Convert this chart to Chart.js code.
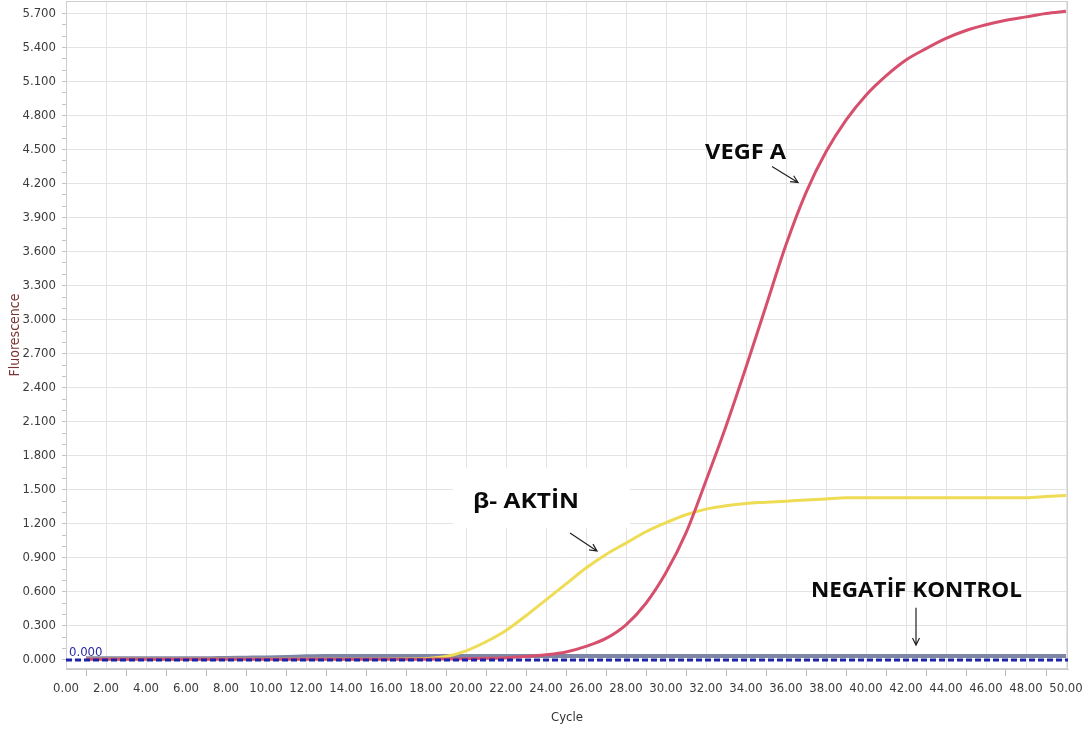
<!DOCTYPE html>
<html>
<head>
<meta charset="utf-8">
<title>Fluorescence / Cycle</title>
<script src="https://cdn.jsdelivr.net/npm/chart.js@4.4.1/dist/chart.umd.min.js"></script>
<style>
    html, body { margin: 0; padding: 0; background: #fff; }
    #wrap { width: 1089px; height: 731px; position: relative; }
</style>
</head>
<body>
<div id="wrap"><canvas id="pcrChart"></canvas></div>
<script>
// Amplification curves, values (one per cycle)
const cycles = [1, 2, 3, 4, 5, 6, 7, 8, 9, 10, 11, 12, 13, 14, 15, 16, 17, 18, 19, 20,
    21, 22, 23, 24, 25, 26, 27, 28, 29, 30, 31, 32, 33, 34, 35, 36, 37, 38, 39, 40,
    41, 42, 43, 44, 45, 46, 47, 48, 49, 50];

const vegfA = [0.005, 0.005, 0.005, 0.005, 0.005, 0.005, 0.005, 0.005, 0.005, 0.005,
    0.005, 0.005, 0.005, 0.005, 0.005, 0.005, 0.005, 0.006, 0.008, 0.01,
    0.014, 0.02, 0.03, 0.045, 0.07, 0.12, 0.19, 0.31, 0.50, 0.77,
    1.12, 1.58, 2.06, 2.58, 3.12, 3.66, 4.12, 4.48, 4.76, 4.98,
    5.15, 5.29, 5.39, 5.48, 5.55, 5.60, 5.64, 5.67, 5.70, 5.72];

const betaAktin = [0.005, 0.005, 0.005, 0.005, 0.005, 0.005, 0.005, 0.005, 0.005, 0.005,
    0.005, 0.005, 0.005, 0.005, 0.005, 0.006, 0.008, 0.012, 0.03, 0.08,
    0.16, 0.26, 0.39, 0.53, 0.67, 0.81, 0.93, 1.03, 1.13, 1.21,
    1.28, 1.33, 1.36, 1.38, 1.39, 1.40, 1.41, 1.42, 1.43, 1.43,
    1.43, 1.43, 1.43, 1.43, 1.43, 1.43, 1.43, 1.43, 1.44, 1.45];

const negatifKontrol = [0.015, 0.015, 0.015, 0.015, 0.015, 0.015, 0.015, 0.018, 0.02, 0.022,
    0.026, 0.032, 0.035, 0.035, 0.035, 0.035, 0.035, 0.035, 0.035, 0.035,
    0.035, 0.035, 0.035, 0.035, 0.035, 0.035, 0.035, 0.035, 0.035, 0.035,
    0.035, 0.035, 0.035, 0.035, 0.035, 0.035, 0.035, 0.035, 0.035, 0.035,
    0.035, 0.035, 0.035, 0.035, 0.035, 0.035, 0.035, 0.035, 0.035, 0.035];

const thresholdValue = 0.0;
const thresholdLabel = '0.000';

// Tick labels
const xTickLabels = ['0.00', '2.00', '4.00', '6.00', '8.00', '10.00', '12.00', '14.00', '16.00',
    '18.00', '20.00', '22.00', '24.00', '26.00', '28.00', '30.00', '32.00', '34.00', '36.00',
    '38.00', '40.00', '42.00', '44.00', '46.00', '48.00', '50.00'];
const yTickLabels = ['0.000', '0.300', '0.600', '0.900', '1.200', '1.500', '1.800', '2.100',
    '2.400', '2.700', '3.000', '3.300', '3.600', '3.900', '4.200', '4.500', '4.800', '5.100',
    '5.400', '5.700'];

const X_MIN = 0, X_MAX = 50.1;
const Y_MIN = -0.08, Y_MAX = 5.81;

const tickFont = { family: '"Liberation Sans Narrow", "DejaVu Sans Condensed", sans-serif', size: 13 };

// Callouts in data units (x = cycle, y = fluorescence)
const callouts = [
    { text: 'VEGF A', x: 33.98, y: 4.42, width: 81, arrow: [35.3, 4.35, 36.6, 4.21] },
    { text: 'β- AKTİN', x: 23.0, y: 1.343, width: 106, box: [19.35, 1.69, 28.2, 1.165], arrow: [25.2, 1.12, 26.55, 0.96] },
    { text: 'NEGATİF KONTROL', x: 42.52, y: 0.556, width: 211, arrow: [42.5, 0.46, 42.5, 0.13] }
];

function toPoints(values) {
    return cycles.map((c, i) => ({ x: c, y: values[i] }));
}

function drawArrow(ctx, x1, y1, x2, y2) {
    const ang = Math.atan2(y2 - y1, x2 - x1);
    const len = 8;
    ctx.beginPath();
    ctx.moveTo(x1, y1);
    ctx.lineTo(x2, y2);
    ctx.moveTo(x2 - len * Math.cos(ang - 0.45), y2 - len * Math.sin(ang - 0.45));
    ctx.lineTo(x2, y2);
    ctx.lineTo(x2 - len * Math.cos(ang + 0.45), y2 - len * Math.sin(ang + 0.45));
    ctx.stroke();
}

const plotExtras = {
    id: 'plotExtras',
    beforeDatasetsDraw(chart) {
        const { ctx, chartArea: a, scales: { x, y } } = chart;
        ctx.save();
        // white box behind the beta-actin label
        callouts.forEach(c => {
            if (!c.box) return;
            const l = x.getPixelForValue(c.box[0]), t = y.getPixelForValue(c.box[1]);
            const r = x.getPixelForValue(c.box[2]), b = y.getPixelForValue(c.box[3]);
            ctx.fillStyle = '#fff';
            ctx.fillRect(l, t, r - l, b - t);
        });
        // plot frame
        ctx.strokeStyle = '#cfcfcf';
        ctx.lineWidth = 1;
        ctx.strokeRect(a.left + 0.5, a.top + 0.5, a.right - a.left - 1, a.bottom - a.top - 1);
        ctx.restore();
    },
    afterDatasetsDraw(chart) {
        const { ctx, scales: { x, y } } = chart;
        ctx.save();
        // threshold value label
        ctx.font = '13px ' + tickFont.family;
        ctx.fillStyle = '#2a2aa8';
        ctx.textAlign = 'left';
        ctx.textBaseline = 'alphabetic';
        ctx.fillText(thresholdLabel, x.getPixelForValue(0.15), y.getPixelForValue(0.035));

        callouts.forEach(c => {
            ctx.save();
            ctx.font = 'bold 21px "Open Sans", sans-serif';
            const w = ctx.measureText(c.text).width;
            ctx.translate(x.getPixelForValue(c.x), y.getPixelForValue(c.y));
            ctx.scale(c.width / w, 1);
            ctx.textAlign = 'center';
            ctx.textBaseline = 'alphabetic';
            ctx.fillStyle = '#0a0a0a';
            ctx.fillText(c.text, 0, 0);
            ctx.restore();

            ctx.strokeStyle = '#222';
            ctx.lineWidth = 1.2;
            drawArrow(ctx,
                x.getPixelForValue(c.arrow[0]), y.getPixelForValue(c.arrow[1]),
                x.getPixelForValue(c.arrow[2]), y.getPixelForValue(c.arrow[3]));
        });
        ctx.restore();
    }
};

document.addEventListener('DOMContentLoaded', () => {
    const ctx = document.getElementById('pcrChart');

    new Chart(ctx, {
        type: 'line',
        data: {
            datasets: [
                {
                    label: 'Threshold',
                    data: [{ x: X_MIN, y: thresholdValue }, { x: X_MAX, y: thresholdValue }],
                    borderColor: '#1c23a8',
                    borderWidth: 3,
                    borderDash: [6, 3],
                    pointRadius: 0,
                    order: 0
                },
                {
                    label: 'VEGF A',
                    data: toPoints(vegfA),
                    borderColor: '#d6506e',
                    borderWidth: 3,
                    pointRadius: 0,
                    cubicInterpolationMode: 'monotone',
                    order: 1
                },
                {
                    label: 'β- AKTİN',
                    data: toPoints(betaAktin),
                    borderColor: '#efdc55',
                    borderWidth: 3,
                    pointRadius: 0,
                    cubicInterpolationMode: 'monotone',
                    order: 2
                },
                {
                    label: 'NEGATİF KONTROL',
                    data: toPoints(negatifKontrol),
                    borderColor: '#7d87a5',
                    borderWidth: 4,
                    pointRadius: 0,
                    cubicInterpolationMode: 'monotone',
                    order: 3
                }
            ]
        },
        options: {
            responsive: true,
            maintainAspectRatio: false,
            animation: false,
            layout: { padding: { top: 1, right: 21, bottom: 0, left: 0 } },
            plugins: {
                legend: { display: false },
                tooltip: { enabled: false }
            },
            scales: {
                x: {
                    type: 'linear',
                    min: X_MIN,
                    max: X_MAX,
                    afterBuildTicks: axis => {
                        axis.ticks = [];
                        for (let c = 0; c <= 50; c++) axis.ticks.push({ value: c });
                    },
                    afterFit: axis => {
                        axis.height = 62;
                        axis.paddingLeft = 0;
                        axis.paddingRight = 0;
                    },
                    grid: {
                        color: c => (c.index % 2 === 0 ? '#e3e3e3' : 'rgba(0,0,0,0)'),
                        tickColor: c => (c.index % 2 === 1 ? '#b9b9b9' : 'rgba(0,0,0,0)'),
                        tickLength: 7,
                        lineWidth: 1
                    },
                    border: { color: '#c9c9c9' },
                    ticks: {
                        autoSkip: false,
                        maxRotation: 0,
                        padding: 5,
                        color: '#3c3c3c',
                        font: tickFont,
                        callback: (value, index) => (index % 2 === 0 ? xTickLabels[index / 2] : '')
                    },
                    title: {
                        display: true,
                        text: 'Cycle',
                        color: '#333',
                        font: { family: tickFont.family, size: 13 },
                        padding: { top: 2, bottom: 6 }
                    }
                },
                y: {
                    type: 'linear',
                    min: Y_MIN,
                    max: Y_MAX,
                    afterBuildTicks: axis => {
                        axis.ticks = [];
                        for (let i = 0; i <= 57; i++) axis.ticks.push({ value: i / 10 });
                    },
                    afterFit: axis => {
                        axis.width = 66;
                        axis.paddingTop = 0;
                        axis.paddingBottom = 0;
                    },
                    grid: {
                        color: c => (c.index % 3 === 0 ? '#e3e3e3' : 'rgba(0,0,0,0)'),
                        tickColor: '#c4c4c4',
                        tickLength: 4,
                        lineWidth: 1
                    },
                    border: { color: '#c9c9c9' },
                    ticks: {
                        autoSkip: false,
                        padding: 6,
                        color: '#3c3c3c',
                        font: tickFont,
                        callback: (value, index) => (index % 3 === 0 ? yTickLabels[index / 3] : '')
                    },
                    title: {
                        display: true,
                        text: 'Fluorescence',
                        color: '#7a3434',
                        font: { family: tickFont.family, size: 14 },
                        padding: { top: 7, bottom: 0 }
                    }
                }
            }
        },
        plugins: [plotExtras]
    });
});
</script>
</body>
</html>
